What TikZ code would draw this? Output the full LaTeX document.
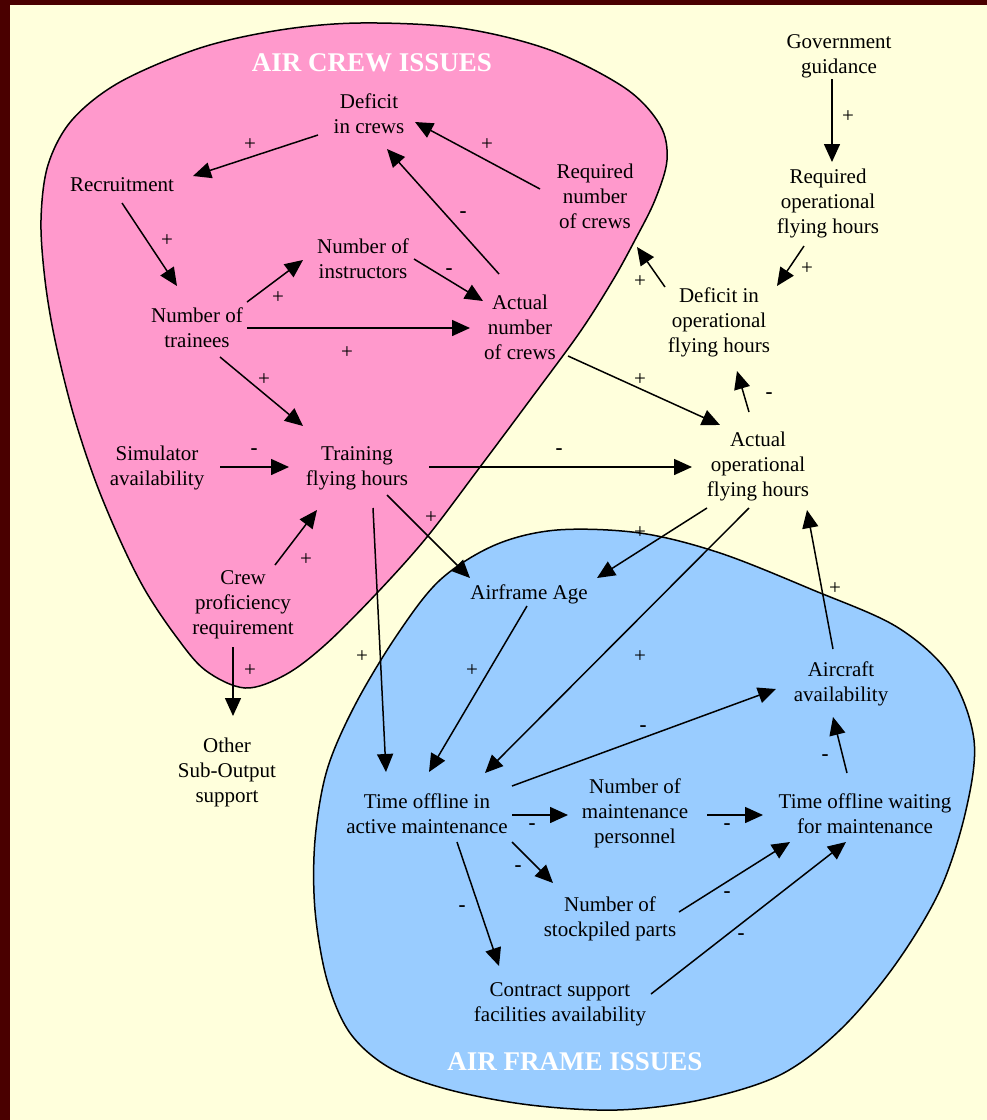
\documentclass[tikz,border=0pt]{standalone}
\usepackage{fontspec}
\setmainfont{Liberation Serif}
\usetikzlibrary{arrows.meta}
\definecolor{frame}{HTML}{4A0000}
\definecolor{bgyellow}{HTML}{FFFFDC}
\definecolor{crewpink}{HTML}{FF99CC}
\definecolor{frameblue}{HTML}{99CCFF}
\tikzset{
  lbl/.style={font=\fontsize{21}{25}\selectfont, align=center, inner sep=0pt},
  sgn/.style={font=\fontsize{21}{25}\selectfont, inner sep=0pt},
  ttl/.style={font=\fontsize{27}{30}\selectfont\bfseries, text=white, inner sep=0pt},
  arr/.style={line width=1.5pt, -{Triangle[length=18pt,width=16pt]}},
  blob/.style={line width=1.5pt, draw=black}
}
\newcommand\myarrow[4]{\draw[arr] ([shift={(#2)}]#1.center) -- ([shift={(#4)}]#3.center);}
\begin{document}
\begin{tikzpicture}[x=1pt,y=-1pt]
\useasboundingbox (0,0) rectangle (987,1120);
\fill[frame] (0,0) rectangle (987,1120);
\fill[bgyellow] (10,5) rectangle (987,1120);
% blobs
\draw[blob, fill=crewpink] plot[smooth cycle, tension=0.55] coordinates {
 (360,23) (460,28) (550,50) (625,88) (660,125) (667,160) (655,200) (635,240)
 (613,280) (580,332) (530,400) (480,467) (427,537) (377,593) (325,645)
 (285,675) (245,688) (205,670) (175,635) (145,590) (120,540) (95,480)
 (73,413) (55,340) (45,280) (41,220) (48,165) (72,120) (120,82) (200,48) (280,30)};
\draw[blob, fill=frameblue] plot[smooth cycle, tension=0.55] coordinates {
 (557,530) (640,533) (720,553) (813,590) (897,627) (950,675) (974,740)
 (966,810) (940,890) (895,965) (840,1030) (780,1075) (700,1100) (617,1110)
 (530,1105) (450,1090) (390,1068) (350,1033) (327,980) (315,910) (315,840)
 (327,770) (355,705) (397,635) (440,580) (495,545)};
% titles
\node[ttl] (t1) at (372,63) {AIR CREW ISSUES};
\node[ttl] (t2) at (575,1062) {AIR FRAME ISSUES};
% nodes
\node[lbl] (dc)  at (369,114) {Deficit\\in crews};
\node[lbl] (rec) at (122,185) {Recruitment};
\node[lbl] (rnc) at (595,196) {Required\\number\\of crews};
\node[lbl] (gov) at (839,56)  {Government\\guidance};
\node[lbl] (rof) at (828,203) {Required\\operational\\flying hours};
\node[lbl] (ni)  at (363,259) {Number of\\instructors};
\node[lbl] (dof) at (719,322) {Deficit in\\operational\\flying hours};
\node[lbl] (nt)  at (197,328) {Number of\\trainees};
\node[lbl] (anc) at (520,327) {Actual\\number\\of crews};
\node[lbl] (sim) at (157,468) {Simulator\\availability};
\node[lbl] (tfh) at (357,468) {Training\\flying hours};
\node[lbl] (aof) at (758,466) {Actual\\operational\\flying hours};
\node[lbl] (age) at (529,594) {Airframe Age};
\node[lbl] (cpr) at (243,605) {Crew\\proficiency\\requirement};
\node[lbl] (aa)  at (841,684) {Aircraft\\availability};
\node[lbl] (oth) at (227,772) {Other\\Sub-Output\\support};
\node[lbl] (toa) at (427,814) {Time offline in\\active maintenance};
\node[lbl] (nmp) at (635,813) {Number of\\maintenance\\personnel};
\node[lbl] (tow) at (865,814) {Time offline waiting\\for maintenance};
\node[lbl] (nsp) at (610,919) {Number of\\stockpiled parts};
\node[lbl] (csf) at (560,1004) {Contract support\\facilities availability};
% connectors
\myarrow{dc}{-51,21}{rec}{71,-9}
\myarrow{rnc}{-55,-7}{dc}{46,8}
\myarrow{anc}{-21,-53}{dc}{18,35}
\myarrow{rec}{0,18}{nt}{-20,-42}
\myarrow{nt}{50,-26}{ni}{-60,1}
\myarrow{ni}{51,0}{anc}{-37,-26}
\myarrow{nt}{50,0}{anc}{-50,1}
\myarrow{nt}{23,29}{tfh}{-54,-42}
\myarrow{sim}{63,-1}{tfh}{-68,-1}
\myarrow{cpr}{32,-40}{tfh}{-40,42}
\myarrow{cpr}{-10,42}{oth}{6,-56}
\myarrow{tfh}{72,-1}{aof}{-66,1}
\myarrow{tfh}{30,27}{age}{-59,-16}
\myarrow{tfh}{16,40}{toa}{-41,-42}
\myarrow{anc}{48,29}{aof}{-38,-41}
\myarrow{aof}{-9,-54}{dof}{18,49}
\myarrow{dof}{-54,-35}{rnc}{42,51}
\myarrow{rof}{-24,43}{dof}{58,-36}
\myarrow{gov}{-7,23}{rof}{4,-41}
\myarrow{aof}{-51,42}{age}{68,-16}
\myarrow{aof}{-9,42}{toa}{58,-41}
\myarrow{aa}{-8,-35}{aof}{49,44}
\myarrow{age}{-2,12}{toa}{2,-42}
\myarrow{toa}{85,-28}{aa}{-65,5}
\myarrow{toa}{85,1}{nmp}{-67,2}
\myarrow{toa}{85,28}{nsp}{-57,-36}
\myarrow{toa}{30,28}{csf}{-61,-38}
\myarrow{nmp}{72,2}{tow}{-102,1}
\myarrow{tow}{-18,-41}{aa}{-8,33}
\myarrow{nsp}{69,-7}{tow}{-75,28}
\myarrow{csf}{91,-10}{tow}{-19,28}
% polarity signs
\node[sgn] (s1) at (250,145) {+};
\node[sgn] (s2) at (487,145) {+};
\node[sgn] (s3) at (463,215) {\textbf{-}};
\node[sgn] (s4) at (167,241) {+};
\node[sgn] (s5) at (278,298) {+};
\node[sgn] (s6) at (449,272) {\textbf{-}};
\node[sgn] (s7) at (347,353) {+};
\node[sgn] (s8) at (264,380) {+};
\node[sgn] (s9) at (254,452) {\textbf{-}};
\node[sgn] (s10) at (306,560) {+};
\node[sgn] (s11) at (250,671) {+};
\node[sgn] (s12) at (559,452) {\textbf{-}};
\node[sgn] (s13) at (431,518) {+};
\node[sgn] (s14) at (362,657) {+};
\node[sgn] (s15) at (640,380) {+};
\node[sgn] (s16) at (769,396) {\textbf{-}};
\node[sgn] (s17) at (640,282) {+};
\node[sgn] (s18) at (807,269) {+};
\node[sgn] (s19) at (848,117) {+};
\node[sgn] (s20) at (640,533) {+};
\node[sgn] (s21) at (640,657) {+};
\node[sgn] (s22) at (835,589) {+};
\node[sgn] (s23) at (472,671) {+};
\node[sgn] (s24) at (643,729) {\textbf{-}};
\node[sgn] (s25) at (532,827) {\textbf{-}};
\node[sgn] (s26) at (518,869) {\textbf{-}};
\node[sgn] (s27) at (462,909) {\textbf{-}};
\node[sgn] (s28) at (727,827) {\textbf{-}};
\node[sgn] (s29) at (825,758) {\textbf{-}};
\node[sgn] (s30) at (727,895) {\textbf{-}};
\node[sgn] (s31) at (741,937) {\textbf{-}};
\end{tikzpicture}
\end{document}
